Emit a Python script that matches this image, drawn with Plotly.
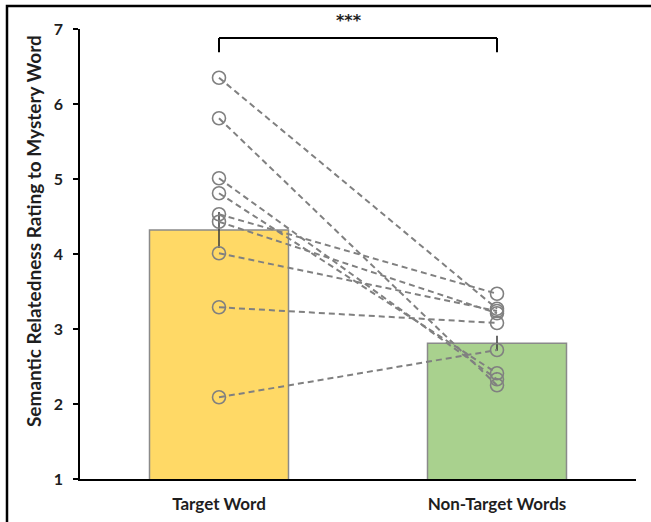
import plotly.graph_objects as go

# ---- data ----
categories = ["Target Word", "Non-Target Words"]
bar_means = [4.32, 2.81]
bar_errors = [0.24, 0.10]

# one rating pair per participant (target, non-target)
target_ratings = [6.35, 5.81, 5.01, 4.81, 4.53, 4.43, 4.01, 3.29, 2.09]
nontarget_ratings = [3.27, 2.25, 2.33, 2.41, 3.47, 3.21, 3.24, 3.08, 2.72]

y_ticks = [1, 2, 3, 4, 5, 6, 7]
y_title = "Semantic Relatedness Rating to Mystery Word"
sig_label = "***"

# ---- styling ----
FONT = "Lato"
GREY = "#808080"
TEXT = "#1e1e1e"
bar_colors = ["#FFD966", "#A9D18E"]

fig = go.Figure()

fig.add_trace(go.Bar(
    x=categories,
    y=bar_means,
    marker=dict(color=bar_colors, line=dict(color="#8a8a8a", width=1.5)),
    error_y=dict(type="data", array=bar_errors, color="#3a3a3a",
                 thickness=1.5, width=0),
    showlegend=False,
    hoverinfo="skip",
))

# individual participants: dashed connector between the two conditions
for t, n in zip(target_ratings, nontarget_ratings):
    fig.add_trace(go.Scatter(
        x=categories,
        y=[t, n],
        mode="lines+markers",
        line=dict(color=GREY, width=2, dash="6px,4px"),
        marker=dict(symbol="circle-open", size=13, color=GREY,
                    line=dict(width=1.6, color=GREY)),
        showlegend=False,
        hoverinfo="skip",
    ))

# significance bracket
br_top, br_bot = 6.88, 6.69
for x0, y0, x1, y1 in [(0, br_bot, 0, br_top), (0, br_top, 1, br_top), (1, br_top, 1, br_bot)]:
    fig.add_shape(type="line", xref="x", yref="y", x0=x0, y0=y0, x1=x1, y1=y1,
                  line=dict(color="black", width=2))

fig.add_annotation(x=0.484, y=1.018, xref="paper", yref="paper", text=sig_label,
                   showarrow=False, xanchor="center", yanchor="middle",
                   font=dict(family="DejaVu Sans", size=16, color=TEXT, weight="bold"))

# y-axis title
fig.add_annotation(x=-0.0845, y=0.551, xref="paper", yref="paper", text=y_title,
                   textangle=-90, showarrow=False, xanchor="center", yanchor="middle",
                   font=dict(family=FONT, size=19, color=TEXT, weight="bold"))

# outer frame
fig.add_shape(type="rect", xref="paper", yref="paper",
              x0=-0.1313, y0=-0.12, x1=1.2, y1=1.0511,
              line=dict(color="black", width=2.5), fillcolor="rgba(0,0,0,0)")

fig.update_layout(
    width=651, height=522,
    margin=dict(l=80, r=15, t=29, b=43, autoexpand=False),
    paper_bgcolor="white",
    plot_bgcolor="white",
    bargap=0.5,
    font=dict(family=FONT, color=TEXT),
    xaxis=dict(
        range=[-0.5, 1.5],
        automargin=False,
        showline=True, linecolor="black", linewidth=1.5,
        ticks="", showgrid=False, zeroline=False,
        tickfont=dict(family=FONT, size=17, color=TEXT, weight="bold"),
        ticklabelstandoff=9,
    ),
    yaxis=dict(
        range=[1, 7],
        automargin=False,
        tickvals=y_ticks,
        showline=True, linecolor="black", linewidth=1.5,
        ticks="outside", ticklen=5, tickwidth=1.5, tickcolor="black",
        showgrid=False, zeroline=False,
        tickfont=dict(family=FONT, size=16, color=TEXT, weight="bold"),
        ticklabelstandoff=7,
    ),
)

fig.write_html("out.html")
